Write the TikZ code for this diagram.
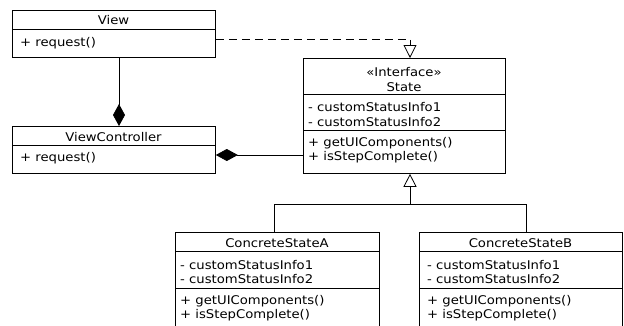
\documentclass[tikz,border=0pt]{standalone}
\usepackage{fontspec}
\setmainfont{DejaVu Sans}[FakeStretch=1.1]
\usetikzlibrary{arrows.meta}
\tikzset{
  umlbox/.style={draw=black, line width=0.8pt, anchor=north west, inner sep=0pt, fill=none},
  sepline/.style={draw=black, line width=0.8pt},
  lbl/.style={inner sep=0pt, anchor=west, font=\fontsize{12}{13}\selectfont},
  ttl/.style={inner sep=0pt, anchor=center, font=\fontsize{12}{13}\selectfont},
  conn/.style={draw=black, line width=0.8pt},
  comp/.style={conn, -{Diamond[length=22pt, width=12pt, fill=black]}},
  gen/.style={conn, -{Triangle[open, length=13pt, width=13pt, fill=white]}},
  real/.style={conn, dash pattern=on 8pt off 5pt, -{Triangle[open, length=13pt, width=13pt, fill=white]}}
}
\begin{document}
\begin{tikzpicture}[x=1pt, y=-1pt]
\useasboundingbox (0,0) rectangle (624,325);
\clip (0,0) rectangle (624,325);
% View
\node[umlbox, minimum width=203pt, minimum height=47pt] (view) at (12,10) {};
\draw[sepline] (12,29) -- (215,29);
\node[ttl] (viewT) at (113.5,20) {View};
\node[lbl] (viewA) at (20,43) {+ request()};
% ViewController
\node[umlbox, minimum width=203pt, minimum height=47pt] (vc) at (12,126) {};
\draw[sepline] (12,145) -- (215,145);
\node[ttl] (vcT) at (113.5,137) {ViewController};
\node[lbl] (vcA) at (20,158) {+ request()};
% State
\node[umlbox, minimum width=202pt, minimum height=115pt] (state) at (303,58) {};
\draw[sepline] (303,94) -- (505,94);
\draw[sepline] (303,130) -- (505,130);
\node[ttl] (stS) at (404,72) {«Interface»};
\node[ttl] (stT) at (404,87) {State};
\node[lbl] (stA1) at (308,107) {- customStatusInfo1};
\node[lbl] (stA2) at (308,122) {- customStatusInfo2};
\node[lbl] (stM1) at (308,143) {+ getUIComponents()};
\node[lbl] (stM2) at (308,157) {+ isStepComplete()};
% ConcreteStateA
\node[umlbox, minimum width=204pt, minimum height=120pt] (csa) at (175,232) {};
\draw[sepline] (175,251) -- (379,251);
\draw[sepline] (175,288) -- (379,288);
\node[ttl] (csaT) at (277,243) {ConcreteStateA};
\node[lbl] (csaA1) at (180,265) {- customStatusInfo1};
\node[lbl] (csaA2) at (180,279) {- customStatusInfo2};
\node[lbl] (csaM1) at (180,301) {+ getUIComponents()};
\node[lbl] (csaM2) at (180,315) {+ isStepComplete()};
% ConcreteStateB
\node[umlbox, minimum width=203pt, minimum height=120pt] (csb) at (419,232) {};
\draw[sepline] (419,251) -- (622,251);
\draw[sepline] (419,288) -- (622,288);
\node[ttl] (csbT) at (520.5,243) {ConcreteStateB};
\node[lbl] (csbA1) at (427,265) {- customStatusInfo1};
\node[lbl] (csbA2) at (427,279) {- customStatusInfo2};
\node[lbl] (csbM1) at (427,301) {+ getUIComponents()};
\node[lbl] (csbM2) at (427,315) {+ isStepComplete()};
% connectors
\coordinate (dashEnd) at (410,39);
\draw[real] (view.east |- dashEnd) -- (dashEnd) -- (dashEnd |- state.north);
\draw[comp] (view.south -| 119,0) -- (vc.north -| 119,0);
\draw[comp] (state.west |- 0,155) -- (vc.east |- 0,155);
\coordinate (join) at (410,204);
\draw[conn] (csa.north -| 274,0) |- (join);
\draw[conn] (csb.north -| 526,0) |- (join);
\draw[gen] (join) -- (join |- state.south);
\end{tikzpicture}
\end{document}
